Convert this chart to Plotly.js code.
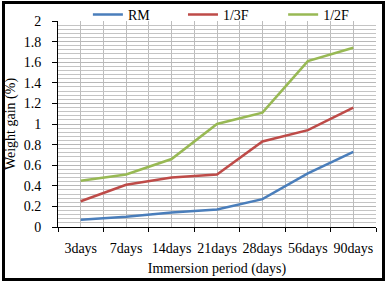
<!DOCTYPE html>
<html>
<head>
<meta charset="utf-8">
<script src="https://cdn.plot.ly/plotly-3.0.1.min.js"></script>
<style>
  html, body { margin: 0; padding: 0; background: #fff; }
  #wrap { position: relative; width: 387px; height: 282px; overflow: hidden; }
  #chart { position: absolute; left: 0; top: 0; width: 387px; height: 282px; }
  #frame { position: absolute; left: 2px; top: 1px; width: 383px; height: 280px;
           border: 3px solid #000; box-sizing: border-box; pointer-events: none; }
</style>
</head>
<body>
<div id="wrap">
  <div id="chart"></div>
  <div id="frame"></div>
</div>
<script>
const categories = ["3days", "7days", "14days", "21days", "28days", "56days", "90days"];
const seriesNames = ["RM", "1/3F", "1/2F"];
const rmValues = [0.07, 0.10, 0.14, 0.17, 0.27, 0.52, 0.73];
const f13Values = [0.25, 0.41, 0.48, 0.51, 0.83, 0.94, 1.16];
const f12Values = [0.45, 0.51, 0.66, 1.00, 1.11, 1.61, 1.74];

const colors = ["#4A7EBB", "#BE4B48", "#98B954"];
const allValues = [rmValues, f13Values, f12Values];
const legendIds = ["legend", "legend2", "legend3"];
const legendX = [0.094, 0.393, 0.708];
const xIdx = categories.map((c, i) => i);
const boundaries = categories.map((c, i) => i - 0.5).concat([categories.length - 0.5]);
const xRange = [-0.5, categories.length - 0.5];

const traces = allValues.map((vals, k) => ({
  x: xIdx,
  y: vals,
  type: "scatter",
  mode: "lines",
  name: seriesNames[k],
  legend: legendIds[k],
  line: { color: colors[k], width: 2.5 },
  hoverinfo: "skip"
}));

const font = "Liberation Serif";

const layout = {
  width: 387,
  height: 282,
  margin: { l: 58, r: 11, t: 21, b: 55, autoexpand: false },
  paper_bgcolor: "#fff",
  plot_bgcolor: "#fff",
  font: { family: font, size: 14, color: "#000" },
  showlegend: true,
  xaxis: {
    range: xRange,
    tickvals: xIdx,
    ticktext: categories,
    ticks: "",
    showgrid: true,
    gridcolor: "#bdbdbd",
    gridwidth: 1,
    showline: true,
    linecolor: "#000",
    linewidth: 1,
    zeroline: false,
    ticklabelstandoff: 8,
    tickfont: { family: font, size: 14, color: "#000" },
    minor: {
      tickvals: boundaries,
      ticks: "outside",
      ticklen: 4,
      tickcolor: "#000",
      showgrid: true,
      gridcolor: "#bdbdbd",
      gridwidth: 1
    },
    title: { text: "Immersion period (days)", font: { family: font, size: 14, color: "#000" }, standoff: 8 }
  },
  yaxis: {
    range: [0, 2],
    tick0: 0,
    dtick: 0.2,
    ticks: "outside",
    ticklen: 5,
    tickcolor: "#000",
    showgrid: true,
    gridcolor: "#b8b8b8",
    gridwidth: 1,
    showline: true,
    linecolor: "#000",
    linewidth: 1,
    zeroline: false,
    ticklabelstandoff: 8,
    tickfont: { family: font, size: 14, color: "#000" },
    minor: {
      dtick: 0.04,
      tick0: 0,
      ticks: "",
      showgrid: true,
      gridcolor: "#c4c4c4",
      gridwidth: 1
    },
    title: { text: "Weight gain (%)", font: { family: font, size: 14, color: "#000" }, standoff: 4 }
  }
};

legendIds.forEach((id, k) => {
  layout[id] = {
    orientation: "h",
    x: legendX[k], xanchor: "left",
    y: 1.03, yanchor: "middle",
    font: { family: font, size: 14, color: "#000" },
    bgcolor: "rgba(0,0,0,0)",
    borderwidth: 0
  };
});

Plotly.newPlot("chart", traces, layout, { staticPlot: true, displayModeBar: false });
</script>
</body>
</html>
